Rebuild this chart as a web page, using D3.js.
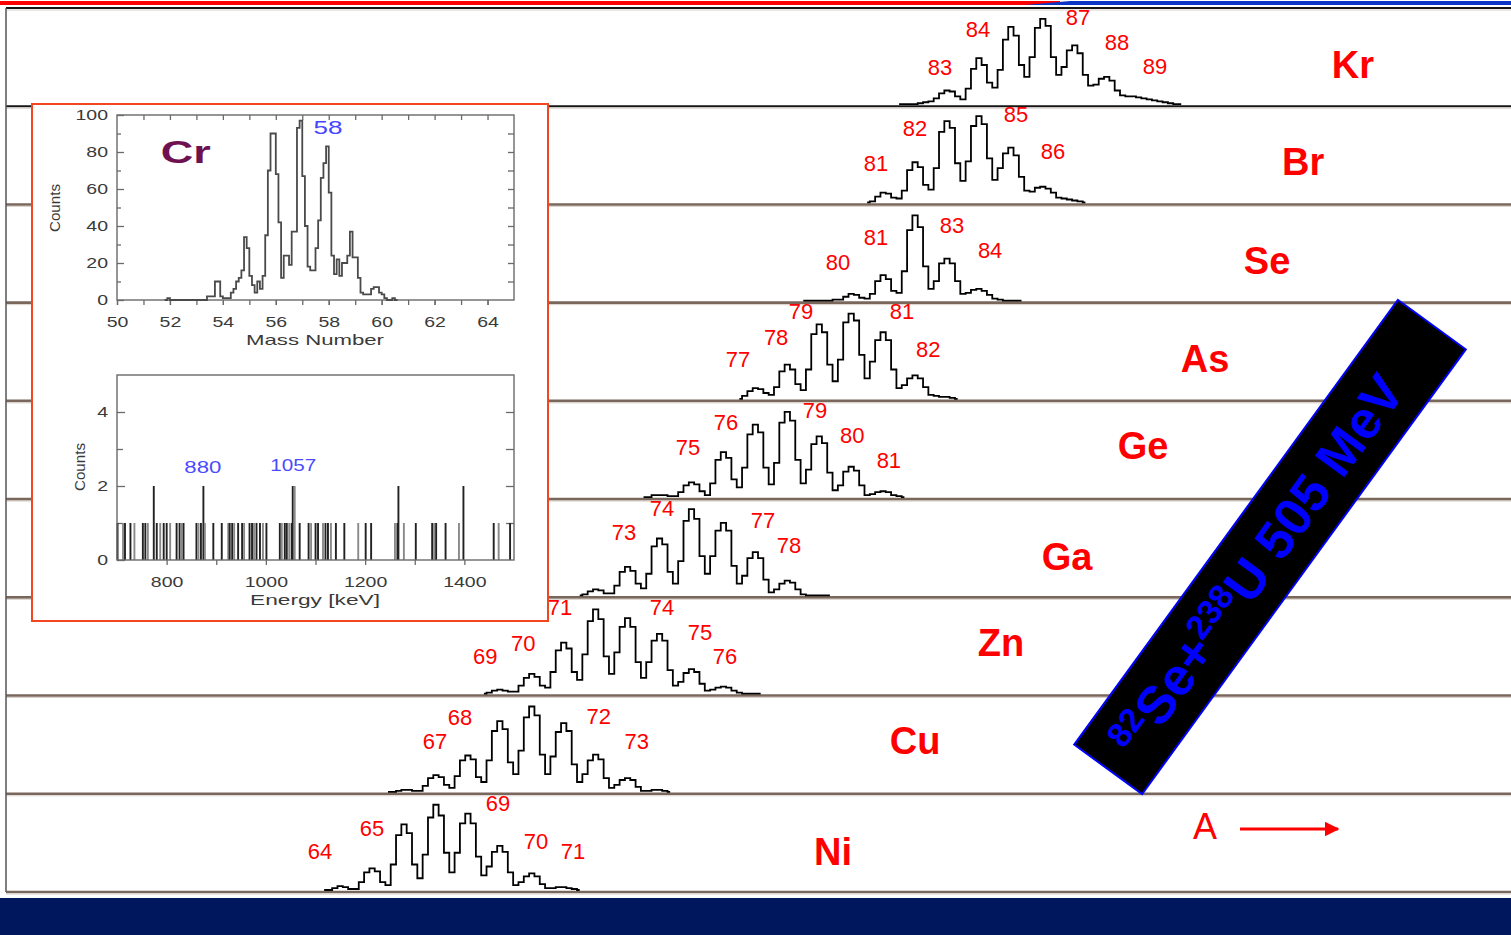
<!DOCTYPE html>
<html><head><meta charset="utf-8">
<script src="https://cdn.jsdelivr.net/npm/d3@7/dist/d3.min.js"></script>
<style>html,body{margin:0;padding:0;background:#fff;overflow:hidden}</style>
</head><body><svg id="c" width="1511" height="935"></svg>
<script>
// ---------------- DATA ----------------
const elements = ["Kr","Br","Se","As","Ge","Ga","Zn","Cu","Ni"];
// spectra: step histograms, bin width 1/6 mass unit, first bin centre given in specStart
const specStart = [81.5, 80.5, 78.5, 76.5, 73.5, 71.5, 68.5, 65.5, 63.5];
const specKr = [0,0,0,0,1,2, 3,6,11,14,13,8, 5,16,36,47,40,22, 17,35,66,79,70,40, 28,48,78,87,80,48, 30,38,55,60,52,30, 19,20,26,28,24,14, 9,8,8,7,6,5, 4,3,2,1,0,0];
const specBr = [0,1,6,10,9,5, 4,12,33,41,36,18, 13,35,72,83,76,40, 22,42,78,88,80,45, 23,35,50,56,48,26, 12,11,15,16,14,10, 5,4,3,2,1,0];
const specSe = [0,0,0,0,0,0, 1,1,4,7,6,3, 2,7,20,26,22,10, 8,30,72,87,75,35, 12,20,38,43,38,20, 7,8,11,12,10,6, 2,1,0,0,0,0];
const specAs = [0,3,8,11,10,6, 4,12,28,35,30,15, 9,30,66,76,68,35, 18,40,78,87,80,45, 21,38,60,68,60,30, 11,14,21,24,21,12, 4,3,2,2,1,0];
const specGe = [0,0,2,2,2,1, 1,5,12,15,13,6, 2,14,38,46,40,18, 10,30,64,74,66,30, 13,35,76,87,78,38, 14,28,54,62,55,25, 7,12,26,31,27,12, 2,3,5,6,5,2, 1,0];
const specGa = [0,1,4,6,5,2, 2,10,24,29,25,12, 7,22,50,58,52,24, 12,35,76,88,78,40, 22,40,66,74,66,30, 12,20,38,44,38,16, 3,6,12,15,13,6, 1,0,0,0,0,0];
const specZn = [0,1,3,4,3,2, 2,8,16,20,17,8, 6,22,44,52,46,22, 14,40,74,86,76,38, 20,42,68,77,68,32, 16,32,54,61,54,24, 8,12,21,25,22,10, 3,4,6,7,6,3, 1,0,0,0,0];
const specCu = [0,0,1,2,2,1, 1,6,14,17,15,7, 4,16,32,37,33,15, 10,32,62,72,64,30, 18,42,76,87,78,38, 18,36,61,70,62,28, 10,18,32,38,33,14, 4,7,12,14,12,5, 1,1,2,2,1,0];
const specNi = [0,0,2,4,3,1, 1,8,18,22,19,8, 5,26,56,67,58,26, 12,36,74,87,76,38, 18,38,68,78,68,34, 15,24,39,45,39,18, 5,8,14,17,14,6, 2,2,3,3,2,1, 0];
const spectra = [specKr, specBr, specSe, specAs, specGe, specGa, specZn, specCu, specNi];

// mass labels: [text, mass position, count level]
const labKr = [["83",82.78,38],["84",83.97,76],["87",87.10,89],["88",88.32,63],["89",89.51,39]];
const labBr = [["82",82.0,76],["85",85.16,90],["81",80.78,40],["86",86.32,52]];
const labSe = [["81",80.78,65],["83",83.16,77],["80",79.59,39],["84",84.35,51]];
const labAs = [["79",78.43,89],["81",81.59,89],["78",77.65,63],["77",76.46,40],["82",82.41,51]];
const labGe = [["76",76.08,76],["79",78.87,89],["75",74.89,51],["80",80.03,63],["81",81.18,38]];
const labGa = [["74",74.08,89],["77",77.24,77],["73",72.89,64],["78",78.05,51]];
const labZn = [["71",70.88,88],["74",74.08,88],["70",69.73,51],["75",75.27,62],["69",68.54,38],["76",76.05,38]];
const labCu = [["68",67.75,76],["72",72.10,77],["67",66.97,51],["73",73.29,52]];
const labNi = [["69",68.94,88],["65",65.0,63],["70",70.13,50],["64",63.37,39],["71",71.29,39]];
const massLabels = [labKr, labBr, labSe, labAs, labGe, labGa, labZn, labCu, labNi];

const elementM = [95.71, 94.15, 93.02, 91.08, 89.14, 86.76, 84.69, 82.0, 79.43];
const elementC = [41, 42, 41, 41, 53, 40, 52, 53, 39];

// inset: Cr mass spectrum (bin width 0.1)
const crStart = 51.8;
const crCounts = [0,1, 0,0,0,0,0,0,0,0,0,0,0,0,0,0, 2,2,2,10,10,2,1,1,1,4,6,10,12,16,34,28,13,8,4,10,6,13,35,70,90,90,68,42,12,24,24,19,37,37,93,97,67,40,18,16,16,28,43,66,74,83,58,24,14,22,13,20,20,24,37,23,23,12,4,3,3,3,6,7,7,4,3,1,0,0,1,0];
const massTicks = [50,52,54,56,58,60,62,64];
const countTicks = [0,20,40,60,80,100];

// inset: gamma energies [keV] and counts
const gammaE = [701,712,716,727,735,752,757,762,774,780,787,794,800,807,820,826,830,834,860,864,869,874,877,894,911,924,927,932,936,944,952,956,967,972,976,981,988,994,1001,1028,1032,1038,1042,1047,1052,1054,1058,1068,1086,1091,1100,1105,1115,1120,1125,1131,1141,1158,1186,1201,1212,1260,1265,1267,1278,1302,1335,1339,1343,1362,1389,1398,1459,1469,1492];
const gammaC = [1,1,1,1,1,1,1,1,2,1,1,1,1,1,1,1,1,1,1,1,1,2,1,1,1,1,1,1,1,1,1,1,1,1,1,1,1,1,1,1,1,1,1,1,1,2,2,1,1,1,1,1,1,1,1,1,1,1,1,1,1,1,1,2,1,1,1,1,1,1,1,2,1,1,1];
const energyTicks = [800,1000,1200,1400];
const gCountTicks = [0,2,4];

// ---------------- DRAWING ----------------
const FONT = "'Liberation Sans', Arial, Helvetica, sans-serif";
const svg = d3.select("#c");
const defs = svg.append("defs");
defs.append("marker").attr("id","ah").attr("viewBox","0 0 10 10").attr("refX",9).attr("refY",5)
  .attr("markerWidth",5).attr("markerHeight",5).attr("orient","auto")
  .append("path").attr("d","M0,0 L10,5 L0,10 Z").attr("fill","#ff0000");

// top bar
svg.append("rect").attr("x",0).attr("y",1).attr("width",1060).attr("height",4).attr("fill","#ff0000");
svg.append("path").attr("d","M1025,5 L1070,1 L1511,1 L1511,5 Z").attr("fill","#0a34c4");

const rowY = d3.scaleLinear().domain([0, elements.length]).range([8, 892]);
const x = d3.scaleLinear().domain([60, 92]).range([212.38, 1234.46]);
const yC = d3.scaleLinear().domain([0, 100]).range([0, -98]);

// row separator lines
d3.range(elements.length + 1).forEach(i => {
  const yy = rowY(i);
  svg.append("line").attr("x1",6).attr("x2",1511).attr("y1",yy).attr("y2",yy)
    .attr("stroke", i <= 1 ? "#151515" : "#7a675c").attr("stroke-width", i <= 1 ? 2 : 2.6);
  svg.append("line").attr("x1",6).attr("x2",1511).attr("y1",yy+2).attr("y2",yy+2)
    .attr("stroke", "#d8d0ca").attr("stroke-width", 1);
});
svg.append("line").attr("x1",6).attr("x2",6).attr("y1",rowY(0)).attr("y2",rowY(elements.length))
  .attr("stroke","#555").attr("stroke-width",1.5);

// bottom band
svg.append("rect").attr("x",0).attr("y",898).attr("width",1511).attr("height",37).attr("fill","#00175e");

const stepLine = d3.line().curve(d3.curveStep);
elements.forEach((el, r) => {
  const base = rowY(r + 1) - 2;
  const vals = spectra[r];
  const pts = vals.map((v, i) => [x(specStart[r] + i / 6), base + yC(v)]);
  svg.append("path").attr("d", stepLine(pts)).attr("fill","none")
    .attr("stroke","#000").attr("stroke-width",1.8).attr("stroke-linejoin","miter");
  massLabels[r].forEach(l => {
    svg.append("text").attr("x", x(l[1])).attr("y", base + yC(l[2]))
      .attr("dy","0.35em").attr("text-anchor","middle")
      .attr("font-family",FONT).attr("font-size",22).attr("fill","#ff0000").text(l[0]);
  });
  svg.append("text").attr("x", x(elementM[r])).attr("y", base + yC(elementC[r]))
    .attr("dy","0.36em").attr("text-anchor","middle")
    .attr("font-family",FONT).attr("font-weight","bold").attr("font-size",38)
    .attr("fill","#ff0000").text(el);
});

// A arrow
svg.append("text").attr("x",1205).attr("y",826).attr("dy","0.36em").attr("text-anchor","middle")
  .attr("font-family",FONT).attr("font-size",36).attr("fill","#ff0000").text("A");
svg.append("line").attr("x1",1240).attr("x2",1338).attr("y1",829).attr("y2",829)
  .attr("stroke","#ff0000").attr("stroke-width",3).attr("marker-end","url(#ah)");

// banner
const bn = svg.append("g").attr("transform","translate(1270,547) rotate(-53.95)");
bn.append("rect").attr("x",-275).attr("y",-42).attr("width",550).attr("height",84)
  .attr("fill","#000").attr("stroke","#0000ff").attr("stroke-width",2);
const bt = bn.append("text").attr("x",-22).attr("y",19).attr("text-anchor","middle")
  .attr("font-family",FONT).attr("font-weight","bold").attr("fill","#0000ff").attr("font-size",53);
bt.append("tspan").attr("font-size",34).attr("dy",-18).text("82");
bt.append("tspan").attr("dy",18).text("Se+");
bt.append("tspan").attr("font-size",34).attr("dy",-18).text("238");
bt.append("tspan").attr("dy",18).text("U 505 MeV");

// ---------------- INSET ----------------
const ins = svg.append("g");
ins.append("rect").attr("x",32).attr("y",104).attr("width",516).attr("height",517)
  .attr("fill","#fff").attr("stroke","#f2461f").attr("stroke-width",2);

const AX = "#6a6a6a", TX = "#3a3a3a";
function styleAxis(g){
  g.select(".domain").remove();
  g.selectAll(".tick line").attr("stroke",AX).attr("stroke-width",1.3);
  g.selectAll(".tick text").attr("font-family",FONT).attr("font-size",15).attr("fill",TX);
}
function widen(g){
  g.selectAll(".tick text").each(function(){
    const t = d3.select(this);
    const xx = +t.attr("x") || 0;
    t.attr("x", xx / 1.3).attr("transform","scale(1.3,1)");
  });
}
const fmt = d3.format("d");

// top panel
const ix = d3.scaleLinear().domain([50,65]).range([117,514]);
const iy = d3.scaleLinear().domain([0,100]).range([300,115]);
ins.append("g").attr("transform","translate(0,300)")
  .call(d3.axisBottom(ix).tickValues(d3.range(50,65,1)).tickSize(5).tickFormat(""))
  .call(styleAxis);
ins.append("g").attr("transform","translate(0,300)")
  .call(d3.axisBottom(ix).tickValues(massTicks).tickSize(5).tickPadding(11).tickFormat(fmt))
  .call(styleAxis).call(widen);
ins.append("g").attr("transform","translate(0,115)")
  .call(d3.axisTop(ix).tickValues(d3.range(51,65,1)).tickSize(-5).tickFormat(""))
  .call(styleAxis);
ins.append("g").attr("transform","translate(117,0)")
  .call(d3.axisLeft(iy).tickValues(d3.range(10,100,20)).tickSize(-4).tickFormat(""))
  .call(styleAxis);
ins.append("g").attr("transform","translate(117,0)")
  .call(d3.axisLeft(iy).tickValues(countTicks).tickSize(-7).tickPadding(9).tickFormat(fmt))
  .call(styleAxis).call(widen);
ins.append("g").attr("transform","translate(514,0)")
  .call(d3.axisRight(iy).tickValues(d3.range(10,100,10)).tickSize(-6).tickFormat(""))
  .call(styleAxis);
ins.append("rect").attr("x",117).attr("y",115).attr("width",397).attr("height",185)
  .attr("fill","none").attr("stroke",AX).attr("stroke-width",1.4);

const crPts = crCounts.map((c,i)=>[ix(crStart + i*0.1), iy(c)]);
crPts.push([ix(crStart + crCounts.length*0.1), iy(crCounts[crCounts.length-1])]);
ins.append("path").attr("d", d3.line().curve(d3.curveStepAfter)(crPts))
  .attr("fill","none").attr("stroke","#4a4a4a").attr("stroke-width",1.8);

ins.append("text").attr("x",ix(52.6)).attr("y",iy(80)).attr("dy","0.36em").attr("text-anchor","middle")
  .attr("font-family",FONT).attr("font-weight","bold").attr("font-size",31).attr("fill","#6e1150")
  .attr("textLength",50).attr("lengthAdjust","spacingAndGlyphs").text("Cr");
ins.append("text").attr("x",ix(57.97)).attr("y",iy(93.5)).attr("dy","0.36em").attr("text-anchor","middle")
  .attr("font-family",FONT).attr("font-size",18).attr("fill","#4646ff")
  .attr("textLength",29).attr("lengthAdjust","spacingAndGlyphs").text("58");
ins.append("text").attr("transform","translate(55,208) rotate(-90)").attr("text-anchor","middle")
  .attr("dy","0.36em").attr("font-family",FONT).attr("font-size",14).attr("fill",TX)
  .attr("textLength",48).attr("lengthAdjust","spacingAndGlyphs").text("Counts");
ins.append("text").attr("x",315).attr("y",340).attr("dy","0.36em").attr("text-anchor","middle")
  .attr("font-family",FONT).attr("font-size",15).attr("fill",TX)
  .attr("textLength",138).attr("lengthAdjust","spacingAndGlyphs").text("Mass Number");

// bottom panel
const gx = d3.scaleLinear().domain([700,1500]).range([117,514]);
const gy = d3.scaleLinear().domain([0,5]).range([560,375]);
ins.append("g").attr("transform","translate(0,560)")
  .call(d3.axisBottom(gx).tickValues([900,1100,1300]).tickSize(5).tickFormat(""))
  .call(styleAxis);
ins.append("g").attr("transform","translate(0,560)")
  .call(d3.axisBottom(gx).tickValues(energyTicks).tickSize(5).tickPadding(11).tickFormat(fmt))
  .call(styleAxis).call(widen);
ins.append("g").attr("transform","translate(117,0)")
  .call(d3.axisLeft(gy).tickValues([1,3]).tickSize(-6).tickFormat(""))
  .call(styleAxis);
ins.append("g").attr("transform","translate(117,0)")
  .call(d3.axisLeft(gy).tickValues(gCountTicks).tickSize(-8).tickPadding(9).tickFormat(fmt))
  .call(styleAxis).call(widen);
ins.append("g").attr("transform","translate(514,0)")
  .call(d3.axisRight(gy).tickValues([1,2,3,4]).tickSize(-8).tickFormat(""))
  .call(styleAxis);

ins.selectAll("rect.gam").data(gammaE).enter().append("rect").attr("class","gam")
  .attr("x", d => gx(d) - 0.9).attr("width", 1.9)
  .attr("y", (d,i) => gy(gammaC[i])).attr("height", (d,i) => gy(0) - gy(gammaC[i]))
  .attr("fill", (d,i) => i % 3 === 1 ? "#8a8a8a" : "#222");
ins.append("rect").attr("x",117).attr("y",375).attr("width",397).attr("height",185)
  .attr("fill","none").attr("stroke",AX).attr("stroke-width",1.4);

ins.append("text").attr("x",gx(873)).attr("y",gy(2.51)).attr("dy","0.36em").attr("text-anchor","middle")
  .attr("font-family",FONT).attr("font-size",16).attr("fill","#4a4aff")
  .attr("textLength",37).attr("lengthAdjust","spacingAndGlyphs").text("880");
ins.append("text").attr("x",gx(1055)).attr("y",gy(2.56)).attr("dy","0.36em").attr("text-anchor","middle")
  .attr("font-family",FONT).attr("font-size",16).attr("fill","#4a4aff")
  .attr("textLength",46).attr("lengthAdjust","spacingAndGlyphs").text("1057");
ins.append("text").attr("transform","translate(80,467) rotate(-90)").attr("text-anchor","middle")
  .attr("dy","0.36em").attr("font-family",FONT).attr("font-size",14).attr("fill",TX)
  .attr("textLength",48).attr("lengthAdjust","spacingAndGlyphs").text("Counts");
ins.append("text").attr("x",315).attr("y",600).attr("dy","0.36em").attr("text-anchor","middle")
  .attr("font-family",FONT).attr("font-size",15).attr("fill",TX)
  .attr("textLength",130).attr("lengthAdjust","spacingAndGlyphs").text("Energy [keV]");
</script>
</body></html>
